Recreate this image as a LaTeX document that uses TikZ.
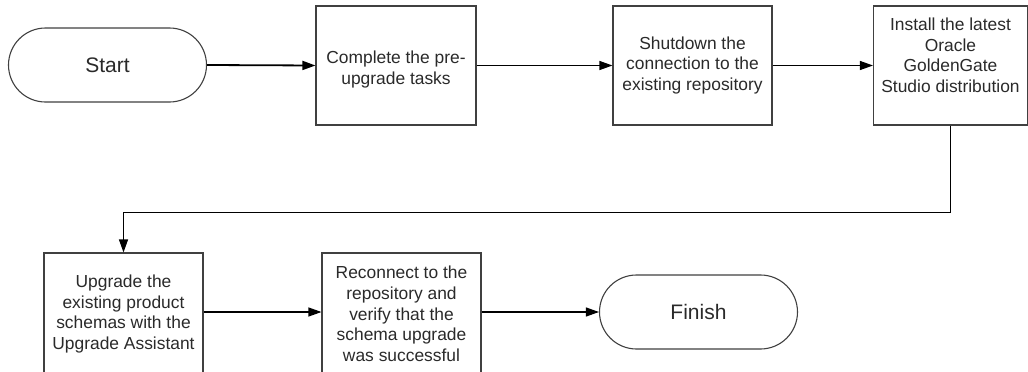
\documentclass[tikz,border=0pt]{standalone}
\usepackage{fontspec}
\setmainfont{Liberation Sans}
\usetikzlibrary{arrows.meta}
\definecolor{edge}{HTML}{404040}
\definecolor{txt}{HTML}{2A2A2A}
\begin{document}
\begin{tikzpicture}[x=1pt,y=-1pt,
  every node/.style={font=\fontsize{17.4pt}{20.7pt}\selectfont, text=txt},
  stepbox/.style={draw=edge, line width=1.1pt, fill=white, align=center, inner sep=2pt},
  term/.style={draw=edge, line width=1.1pt, fill=white, rounded corners=37pt, minimum width=198pt, minimum height=74pt, font=\fontsize{21pt}{24pt}\selectfont},
  conn/.style={draw=black, line width=1.1pt, -{Triangle[length=13pt,width=9pt]}}]
\useasboundingbox (0,0) rectangle (1028,372);
\node[term] (start) at (107.5,65) {Start};
\node[stepbox, minimum width=160pt, minimum height=119pt] (b1) at (396,65.5) {\\Complete the pre-\\upgrade tasks};
\node[stepbox, minimum width=159pt, minimum height=119pt] (b2) at (692.5,65.5) {Shutdown the\\connection to the\\existing repository};
\node[stepbox, minimum width=154pt, minimum height=119pt] (b3) at (950.5,65.5) {Install the latest\\Oracle\\GoldenGate\\Studio distribution\\~};
\node[stepbox, minimum width=159pt, minimum height=122pt] (b4) at (123.5,314) {Upgrade the\\existing product\\schemas with the\\Upgrade Assistant};
\node[stepbox, minimum width=159pt, minimum height=122pt] (b5) at (401.5,314) {Reconnect to the\\repository and\\verify that the\\schema upgrade\\was successful};
\node[term] (finish) at (698.5,312) {Finish};
\draw[conn, line width=1.8pt] (start.east) -- (b1.west);
\draw[conn] (b1.east) -- (b2.west);
\draw[conn] (b2.east) -- (b3.west);
\draw[conn] (b3.south) -- ++(0,87) -| (b4.north);
\draw[conn] (b4.east |- finish.west) -- (b5.west |- finish.west);
\draw[conn] (b5.east |- finish.west) -- (finish.west);
\end{tikzpicture}
\end{document}
